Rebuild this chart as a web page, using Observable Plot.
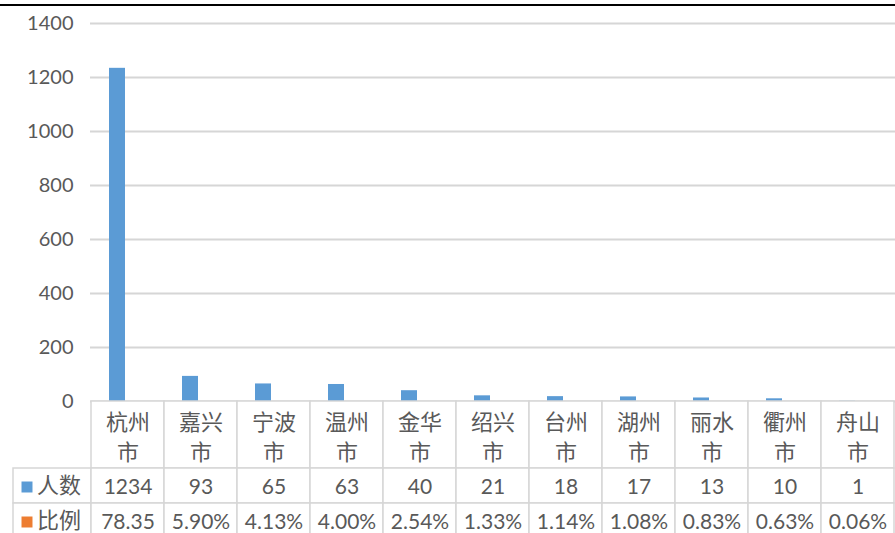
<!DOCTYPE html>
<html><head><meta charset="utf-8">
<script src="https://cdn.jsdelivr.net/npm/d3@7"></script>
<script src="https://cdn.jsdelivr.net/npm/@observablehq/plot@0.6"></script>
<style>
html,body{margin:0;padding:0;background:#fff;overflow:hidden;width:895px;height:533px}
#wrap{position:relative;width:895px;height:533px;overflow:hidden}
#topline{position:absolute;left:0;top:4px;width:895px;height:2px;background:#000;z-index:5}
.part{position:absolute;left:0}
</style></head><body>
<div id="wrap">
  <div id="a" class="part" style="top:0"></div>
  <div id="b" class="part" style="top:401px"></div>
  <div id="c" class="part" style="top:468px"></div>
  <div id="topline"></div>
</div>
<script>
const cities = ["杭州市","嘉兴市","宁波市","温州市","金华市","绍兴市","台州市","湖州市","丽水市","衢州市","舟山市"];
const counts = [1234, 93, 65, 63, 40, 21, 18, 17, 13, 10, 1];
const ratios = ["78.35","5.90%","4.13%","4.00%","2.54%","1.33%","1.14%","1.08%","0.83%","0.63%","0.06%"];
const seriesNames = ["人数","比例"];
const seriesColors = ["#5b9bd5","#ed7d31"];
const yTicks = [0,200,400,600,800,1000,1200,1400];

const W = 895, L = 90;
const grey = "#595959", lineCol = "#d6d6d6";
const numFont = "Lato, 'Open Sans', sans-serif";
const cjkFont = "'Noto Sans CJK SC', sans-serif";
const legendKey = "__legend";

const barData = cities.map((c, i) => ({city: c, value: counts[i]}));
const tableRows = seriesNames.flatMap((s, si) =>
  cities.map((c, i) => ({series: s, city: c, label: si === 0 ? String(counts[i]) : ratios[i]})));

// Bars + y axis
const chartA = Plot.plot({
  width: W, height: 410,
  marginTop: 23, marginBottom: 9, marginLeft: L, marginRight: 0,
  x: {domain: cities, padding: 0, axis: null},
  y: {domain: [0, 1400], label: null},
  style: {fontFamily: numFont, fontSize: "20px", color: grey, background: "transparent", overflow: "visible"},
  marks: [
    Plot.gridY(yTicks, {stroke: lineCol, strokeOpacity: 1, strokeWidth: 2}),
    Plot.axisY(yTicks, {tickSize: 0, tickPadding: 17, fill: grey, fontSize: 20, fontFamily: numFont,
      tickFormat: d => String(d), label: null}),
    Plot.barY(barData, {x: "city", y: "value", fill: seriesColors[0], insetLeft: 18, insetRight: 39})
  ]
});
document.getElementById("a").append(chartA);

// Header row of data table
const chartB = Plot.plot({
  width: W, height: 67,
  marginTop: 0, marginBottom: 0, marginLeft: L, marginRight: 0,
  x: {domain: cities, padding: 0, axis: null},
  style: {background: "transparent", overflow: "visible"},
  marks: [
    Plot.cell(cities, {x: d => d, fill: "white", stroke: lineCol, strokeWidth: 1.5}),
    Plot.text(cities, {x: d => d, text: d => d.slice(0, 2) + "\n" + d.slice(2),
      fontSize: 22, lineHeight: 1.36, fill: grey, fontFamily: cjkFont})
  ]
});
document.getElementById("b").append(chartB);

// Data rows of table
const colW = (W - L) / cities.length;
const chartC = Plot.plot({
  width: W, height: 70,
  marginTop: 0, marginBottom: 0, marginLeft: L - colW, marginRight: 0,
  x: {domain: [legendKey, ...cities], padding: 0, axis: null},
  y: {domain: seriesNames, padding: 0, axis: null},
  color: {domain: seriesNames, range: seriesColors},
  style: {background: "transparent", overflow: "visible"},
  marks: [
    Plot.cell(seriesNames, {x: () => legendKey, y: d => d, fill: "white", stroke: lineCol, strokeWidth: 1.5, insetLeft: -5}),
    Plot.cell(tableRows, {x: "city", y: "series", fill: "white", stroke: lineCol, strokeWidth: 1.5}),
    Plot.text(tableRows, {x: "city", y: "series", text: "label", fontSize: 21, fill: grey, fontFamily: numFont, dy: 1}),
    Plot.dot(seriesNames, {x: () => legendKey, y: d => d, symbol: "square", r: 6.2, fill: d => d, dx: -28, dy: 1}),
    Plot.text(seriesNames, {x: () => legendKey, y: d => d, text: d => d, fontSize: 22, fill: grey, fontFamily: cjkFont, dx: 4})
  ]
});
document.getElementById("c").append(chartC);
</script>
</body></html>
